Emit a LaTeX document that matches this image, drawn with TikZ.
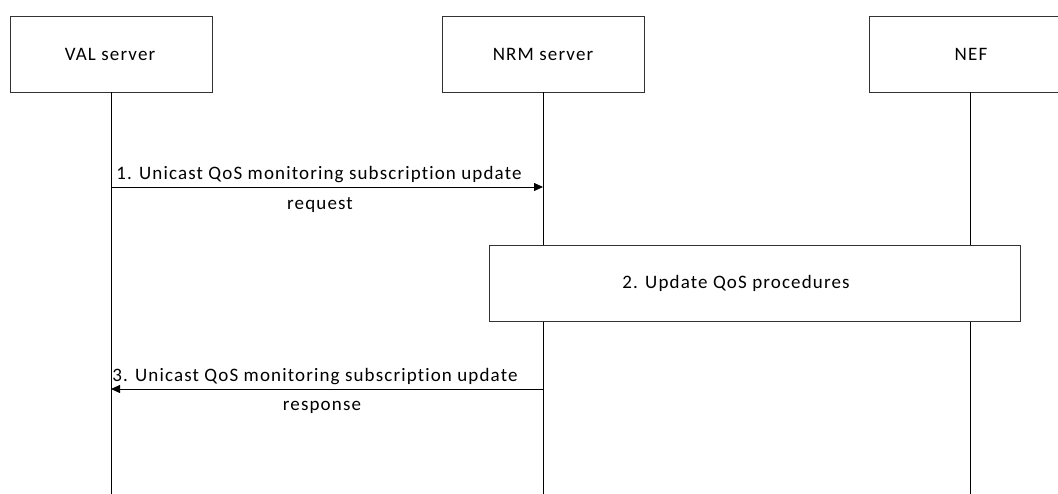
\documentclass[tikz,border=0pt]{standalone}
\usepackage{fontspec}
\setmainfont{Carlito}
\newfontfamily\lblfont[LetterSpace=6,Ligatures=NoCommon]{Carlito}
\usetikzlibrary{arrows.meta}
\begin{document}
\begin{tikzpicture}[x=1pt,y=-1pt,
  actor/.style={draw=black!80,line width=0.8pt,minimum width=202pt,minimum height=76pt,inner sep=0pt},
  life/.style={draw=black,line width=0.8pt},
  msg/.style={draw=black,line width=0.8pt,-{Triangle[length=9pt,width=8pt]}},
  txt/.style={font=\lblfont\fontsize{19}{22}\selectfont,inner sep=0pt,align=center}]
\useasboundingbox (0,0) rectangle (1058,494);
\begin{scope}
\clip (0,0) rectangle (1058,494);
\node[actor] (val) at (111,54) {};
\node[actor] (nrm) at (543,54) {};
\node[actor] (nef) at (970,54) {};
\node[txt] (valt) at (110,54) {VAL server};
\node[txt] (nrmt) at (543,54) {NRM server};
\node[txt] (neft) at (971,54) {NEF};
\coordinate (valb) at (111,494);
\coordinate (nrmb) at (543,494);
\coordinate (nefb) at (970,494);
\draw[life] (val.south) -- (valb);
\draw[life] (nrm.south) -- (nrmb);
\draw[life] (nef.south) -- (nefb);
\node[draw=black!80,line width=0.8pt,fill=white,minimum width=531pt,minimum height=76pt,inner sep=0pt] (upd) at (754.5,283) {};
\node[txt] (updt) at (736,283) {2. Update QoS procedures};
\coordinate (a1s) at (111,187);
\coordinate (a1e) at (543,187);
\draw[msg] (a1s) -- (a1e);
\node[txt] (t1) at (319,175) {1. Unicast QoS monitoring subscription update};
\node[txt] (t1b) at (320,205) {request};
\coordinate (a3s) at (543,389);
\coordinate (a3e) at (111,389);
\draw[msg] (a3s) -- (a3e);
\node[txt] (t3) at (315,377) {3. Unicast QoS monitoring subscription update};
\node[txt] (t3b) at (322,407) {response};
\end{scope}
\end{tikzpicture}
\end{document}
